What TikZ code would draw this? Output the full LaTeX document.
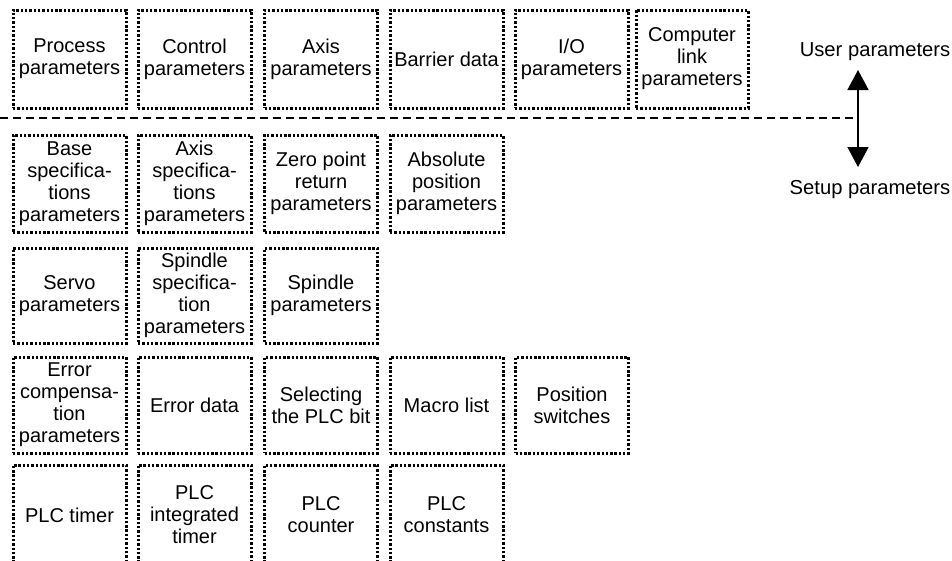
\documentclass[tikz,border=0pt]{standalone}
\usepackage{fontspec}
\setmainfont{Liberation Sans}
\usetikzlibrary{arrows.meta}
\begin{document}
\begin{tikzpicture}[x=1pt,y=-1pt,
  pbox/.style={draw, line width=3pt, dash pattern=on 2.4pt off 1.9pt, minimum width=113pt, minimum height=97pt, inner sep=0pt, align=center, font=\fontsize{20}{22}\selectfont},
  lbl/.style={font=\fontsize{20.2}{22}\selectfont, inner sep=0pt},
  sepline/.style={line width=1.4pt, dash pattern=on 8pt off 5pt},
  dblarrow/.style={line width=1.5pt, {Triangle[width=21pt,length=20pt]}-{Triangle[width=21pt,length=20pt]}}]
\useasboundingbox (0,0) rectangle (952,560);
\clip (0,0) rectangle (952,560);
% row 1
\node[pbox, minimum height=98pt] (r1a) at (69.5,59) {Process\\parameters};
\node[pbox, minimum height=98pt] (r1b) at (194.5,59) {Control\\parameters};
\node[pbox, minimum height=98pt] (r1c) at (321,59) {Axis\\parameters};
\node[pbox, minimum height=98pt] (r1d) at (446.5,59) {Barrier data};
\node[pbox, minimum height=98pt] (r1e) at (571.5,59) {I/O\\parameters};
\node[pbox, minimum height=98pt, minimum width=112pt] (r1f) at (692,59) {Computer\\link\\parameters};
% separator
\coordinate (sepL) at (0,118);
\coordinate (sepR) at (858,118);
\draw[sepline] (sepL) -- (sepR);
\coordinate (arrT) at (858,70);
\coordinate (arrB) at (858,167);
\draw[dblarrow] (arrT) -- (arrB);
\node[lbl] (user) at (875,52) {User parameters};
\node[lbl] (setup) at (870,190) {Setup parameters};
% row 2
\node[pbox] (r2a) at (69.5,183.5) {Base\\specifica-\\tions\\parameters};
\node[pbox] (r2b) at (194.5,183.5) {Axis\\specifica-\\tions\\parameters};
\node[pbox] (r2c) at (321,183.5) {Zero point\\return\\parameters};
\node[pbox] (r2d) at (446.5,183.5) {Absolute\\position\\parameters};
% row 3
\node[pbox, minimum height=95pt] (r3a) at (69.5,295.5) {Servo\\parameters};
\node[pbox, minimum height=95pt] (r3b) at (194.5,295.5) {Spindle\\specifica-\\tion\\parameters};
\node[pbox, minimum height=95pt] (r3c) at (321,295.5) {Spindle\\parameters};
% row 4
\node[pbox, minimum height=96pt] (r4a) at (69.5,405) {Error\\compensa-\\tion\\parameters};
\node[pbox, minimum height=96pt] (r4b) at (194.5,405) {Error data};
\node[pbox, minimum height=96pt] (r4c) at (321,405) {Selecting\\the PLC bit};
\node[pbox, minimum height=96pt] (r4d) at (446.5,405) {Macro list};
\node[pbox, minimum height=96pt] (r4e) at (572,405) {Position\\switches};
% row 5
\node[pbox, minimum height=100pt] (r5a) at (69.5,515) {PLC timer};
\node[pbox, minimum height=100pt] (r5b) at (194.5,515) {PLC\\integrated\\timer};
\node[pbox, minimum height=100pt] (r5c) at (321,515) {PLC\\counter};
\node[pbox, minimum height=100pt] (r5d) at (446.5,515) {PLC\\constants};
\end{tikzpicture}
\end{document}
